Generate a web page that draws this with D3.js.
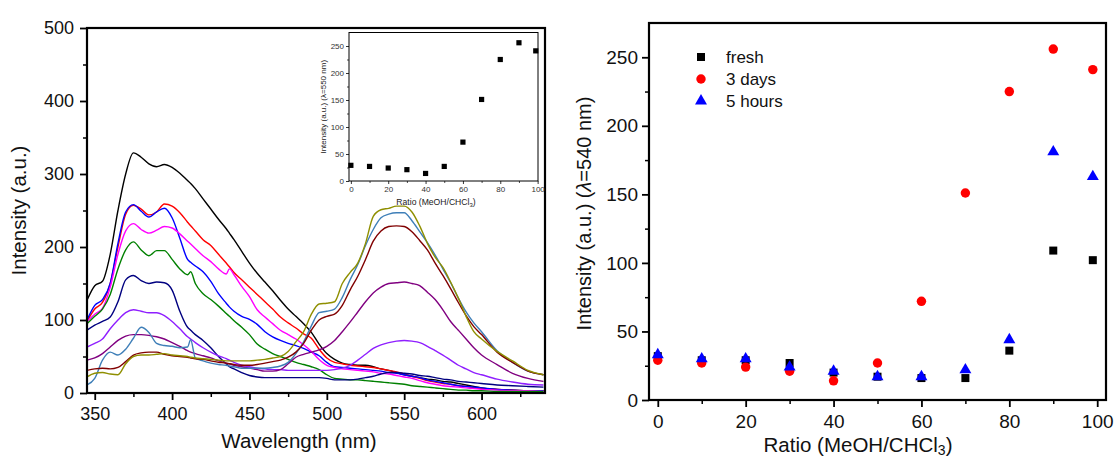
<!DOCTYPE html>
<html>
<head>
<meta charset="utf-8">
<script src="https://cdn.jsdelivr.net/npm/d3@7"></script>
<style>
  html, body { margin: 0; padding: 0; background: #fff; }
  svg { display: block; font-family: "Liberation Sans", Arial, sans-serif; }
</style>
</head>
<body>
<svg id="chart" width="1115" height="460"></svg>
<script>
// ---------------- DATA ----------------
const wavelengths = [345,350,355,360,365,370,375,380,385,390,
  395,400,405,410,412,415,420,425,430,435,
  437,440,445,450,455,460,465,470,475,480,
  485,490,495,500,505,510,515,520,525,530,
  535,540,545,550,555,560,565,570,575,580,
  585,590,595,600,610,620,630,640];

const specBlack = [127,147,153,190,250,300,329,323,314,310, 313,309,301,291,287,280,266,252,238,225, 219,210,194,178,164,152,140,127,115,105, 95,83,67,54,46,41,39,38,38,36, 33,31,28,25,23,21,19,18,16,15, 13,11,9,7,5,4,3,3];
const specRed = [98,115,124,150,200,245,257,252,244,248, 259,256,247,234,229,222,210,202,190,178, 173,165,155,145,135,125,115,104,96,89, 81,75,60,48,42,40,38,37,36,35, 33,31,29,26,23,20,17,15,13,12, 10,9,7,6,5,4,3,3];
const specBlue = [100,120,128,150,205,248,258,249,241,248, 253,240,212,183,179,174,166,153,136,123, 118,112,105,101,94,84,77,72,68,65, 61,56,51,42,36,35,34,33,32,31, 30,28,27,25,23,21,18,16,14,12, 10,9,8,7,5,4,3,3];
const specMagenta = [98,108,116,145,190,222,232,224,219,223, 228,226,218,208,204,198,188,180,170,163, 170,162,146,132,114,104,95,86,80,74, 66,57,46,38,35,33,32,31,30,29, 27,26,24,22,20,17,14,12,10,9, 8,7,6,5,4,3,3,2];
const specGreen = [95,105,115,135,170,196,207,196,188,195, 195,183,170,162,166,150,136,128,119,109, 105,99,90,80,67,60,54,50,46,42, 39,36,32,25,20,19,18,18,17,16, 15,14,13,12,10,9,8,7,6,5, 4,4,3,3,2,2,2,2];
const specNavy = [86,93,98,104,125,155,161,154,150,152, 151,141,112,90,86,80,72,62,50,40, 36,33,28,24,22,21,21,21,21,21, 21,21,21,20,18,18,18,19,21,23, 26,28,28,27,26,24,23,21,19,18, 16,15,14,13,11,10,9,8];
const specViolet = [63,68,74,88,100,110,114,112,110,110, 106,98,88,77,74,69,62,56,51,47, 45,42,38,36,34,33,32,32,31,31, 31,31,31,31,32,34,38,45,53,61, 66,69,71,72,71,69,64,58,52,45, 38,33,28,25,19,15,12,11];
const specPurple = [45,48,54,63,72,78,80,80,79,77, 74,69,64,58,56,54,51,48,44,41, 40,38,36,34,32,30,30,32,40,49, 53,56,59,64,72,84,97,111,125,137, 145,150,151,152,150,147,138,128,114,98, 86,74,62,52,39,27,20,16];
const specSteel = [11,20,45,56,52,60,75,90,83,68, 65,64,62,63,73,48,44,41,39,38, 37,36,34,34,34,34,35,37,42,54, 70,92,110,112,115,131,155,176,202,224, 240,245,247,247,236,221,206,189,170,151, 130,111,96,84,58,42,30,25];
const specWine = [31,33,34,33,35,43,52,55,56,56, 53,51,50,49,48,47,46,44,42,41, 40,39,38,38,39,41,43,45,49,56, 68,86,100,105,108,120,141,160,183,208, 222,228,229,228,221,209,196,178,161,143, 124,106,91,80,56,42,30,25];
const specOlive = [22,27,28,26,25,40,50,52,52,53, 54,52,51,50,49,48,47,46,45,44, 44,44,44,44,45,46,48,50,57,70, 84,108,122,123,125,150,165,178,205,242, 251,253,256,256,248,229,205,186,172,152, 130,105,84,74,57,44,31,25];

const leftXTicks = [350,400,450,500,550,600];
const leftYTicks = [0,100,200,300,400,500];

const ratios = [0,10,20,30,40,50,60,70,80,90,99];
const insetValues = [29,27,24,21,14,27,72,151,225,256,241];
const fresh = [32,29,29,27,20,17,16,16,36,109,102];
const threeDays = [29,27,24,21,14,27,72,151,225,256,241];
const fiveHours = [33,30,30,24,21,17,17,22,44,181,163];
const seriesNames = ["fresh","3 days","5 hours"];

const ratioTicks = [0,20,40,60,80,100];
const rightYTicks = [0,50,100,150,200,250];

// ---------------- STYLE ----------------
const specList = [specBlack, specRed, specBlue, specMagenta, specGreen, specNavy,
                  specViolet, specPurple, specSteel, specWine, specOlive];
const specColors = ["#000000","#ff0000","#0000ff","#ff00ff","#008000","#000080",
                    "#8f1fff","#800080","#3f7fb8","#800000","#8f8f00"];
const seriesColors = ["#000000","#ff0000","#0000ff"];

const svg = d3.select("#chart");
const FONT = "'Liberation Sans', Arial, sans-serif";

function styleAxis(g, fontSize, width, color) {
  g.select(".domain").remove();
  g.selectAll(".tick line").attr("stroke", "#000").attr("stroke-width", width);
  g.selectAll(".tick text").attr("font-size", fontSize).attr("font-family", FONT).attr("fill", color || "#111");
}

// ---------------- LEFT PANEL ----------------
const L = {x0: 87, x1: 545, y0: 28, y1: 393};
const xL = d3.scaleLinear().domain([345, 641]).range([L.x0, L.x1]);
const yL = d3.scaleLinear().domain([0, 500]).range([L.y1, L.y0]);

svg.append("defs").append("clipPath").attr("id", "clipL")
  .append("rect").attr("x", L.x0).attr("y", L.y0).attr("width", L.x1 - L.x0).attr("height", L.y1 - L.y0);

const line = d3.line().x((d, i) => xL(wavelengths[i])).y(d => yL(d)).curve(d3.curveMonotoneX);
const specG = svg.append("g").attr("clip-path", "url(#clipL)");
specList.forEach((s, k) => {
  specG.append("path").attr("d", line(s)).attr("fill", "none")
    .attr("stroke", specColors[k]).attr("stroke-width", 1.4).attr("stroke-linejoin", "round");
});

// axes
const lxMinor = d3.range(375, 640, 50);
const lyMinor = d3.range(50, 500, 100);
svg.append("g").attr("transform", `translate(0,${L.y1})`)
  .call(d3.axisBottom(xL).tickValues(leftXTicks).tickSize(7).tickSizeOuter(0).tickPadding(6))
  .call(g => styleAxis(g, 18, 1.8))
  .call(g => g.selectAll(".tick text").attr("y", 27).attr("dy", 0));
svg.append("g").attr("transform", `translate(0,${L.y1})`)
  .call(d3.axisBottom(xL).tickValues(lxMinor).tickSize(4).tickFormat(""))
  .call(g => styleAxis(g, 18, 1.5));
svg.append("g").attr("transform", `translate(${L.x0},0)`)
  .call(d3.axisLeft(yL).tickValues(leftYTicks).tickSize(7).tickSizeOuter(0).tickPadding(6))
  .call(g => styleAxis(g, 18, 1.8));
svg.append("g").attr("transform", `translate(${L.x0},0)`)
  .call(d3.axisLeft(yL).tickValues(lyMinor).tickSize(4).tickFormat(""))
  .call(g => styleAxis(g, 18, 1.5));
svg.append("rect").attr("x", L.x0).attr("y", L.y0).attr("width", L.x1 - L.x0).attr("height", L.y1 - L.y0)
  .attr("fill", "none").attr("stroke", "#000").attr("stroke-width", 2.2);

svg.append("text").attr("transform", `translate(26,${(L.y0 + L.y1) / 2}) rotate(-90)`)
  .attr("text-anchor", "middle").attr("font-size", 20.5).attr("fill", "#111").text("Intensity (a.u.)");
svg.append("text").attr("x", 299).attr("y", 448).attr("text-anchor", "middle")
  .attr("font-size", 20.5).attr("fill", "#111").text("Wavelength (nm)");

// ---------------- INSET ----------------
const I = {x0: 349, x1: 538, y0: 32.5, y1: 181};
const xI = d3.scaleLinear().domain([-1, 100.2]).range([I.x0, I.x1]);
const yI = d3.scaleLinear().domain([0, 275]).range([I.y1, I.y0]);
svg.append("rect").attr("x", I.x0).attr("y", I.y0).attr("width", I.x1 - I.x0).attr("height", I.y1 - I.y0)
  .attr("fill", "#fff").attr("stroke", "none");
svg.append("g").attr("transform", `translate(0,${I.y1})`)
  .call(d3.axisBottom(xI).tickValues(ratioTicks).tickSize(3).tickSizeOuter(0).tickPadding(2))
  .call(g => styleAxis(g, 8, 0.8, "#333"));
svg.append("g").attr("transform", `translate(0,${I.y1})`)
  .call(d3.axisBottom(xI).tickValues(d3.range(10, 100, 20)).tickSize(2).tickFormat(""))
  .call(g => styleAxis(g, 8, 0.7));
svg.append("g").attr("transform", `translate(${I.x0},0)`)
  .call(d3.axisLeft(yI).tickValues(rightYTicks).tickSize(3).tickSizeOuter(0).tickPadding(2))
  .call(g => styleAxis(g, 8, 0.8, "#333"));
svg.append("g").attr("transform", `translate(${I.x0},0)`)
  .call(d3.axisLeft(yI).tickValues(d3.range(25, 275, 50)).tickSize(2).tickFormat(""))
  .call(g => styleAxis(g, 8, 0.7));
svg.append("rect").attr("x", I.x0).attr("y", I.y0).attr("width", I.x1 - I.x0).attr("height", I.y1 - I.y0)
  .attr("fill", "none").attr("stroke", "#000").attr("stroke-width", 1);
svg.append("g").selectAll("rect").data(ratios).join("rect")
  .attr("x", (d, i) => xI(d) - 2.6).attr("y", (d, i) => yI(insetValues[i]) - 2.6)
  .attr("width", 5.2).attr("height", 5.2).attr("fill", "#000");
svg.append("text").attr("transform", `translate(326,${(I.y0 + I.y1) / 2}) rotate(-90)`)
  .attr("text-anchor", "middle").attr("font-size", 8).attr("fill", "#222").text("Intensity (a.u.) (λ=550 nm)");
const it = svg.append("text").attr("x", 436).attr("y", 205).attr("text-anchor", "middle")
  .attr("font-size", 8.6).attr("fill", "#222");
it.append("tspan").text("Ratio (MeOH/CHCl");
it.append("tspan").attr("font-size", 6).attr("dy", 2).text("3");
it.append("tspan").attr("dy", -2).text(")");

// ---------------- RIGHT PANEL ----------------
const R = {x0: 649, x1: 1106, y0: 23, y1: 400};
const xR = d3.scaleLinear().domain([-2, 102]).range([R.x0, R.x1]);
const yR = d3.scaleLinear().domain([0, 275]).range([R.y1, R.y0]);

svg.append("g").attr("transform", `translate(0,${R.y1})`)
  .call(d3.axisBottom(xR).tickValues(ratioTicks).tickSize(7).tickSizeOuter(0).tickPadding(6))
  .call(g => styleAxis(g, 19, 1.8))
  .call(g => g.selectAll(".tick text").attr("y", 28).attr("dy", 0));
svg.append("g").attr("transform", `translate(0,${R.y1})`)
  .call(d3.axisBottom(xR).tickValues(d3.range(10, 100, 20)).tickSize(4).tickFormat(""))
  .call(g => styleAxis(g, 19, 1.5));
svg.append("g").attr("transform", `translate(${R.x0},0)`)
  .call(d3.axisLeft(yR).tickValues(rightYTicks).tickSize(7).tickSizeOuter(0).tickPadding(4))
  .call(g => styleAxis(g, 19, 1.8));
svg.append("g").attr("transform", `translate(${R.x0},0)`)
  .call(d3.axisLeft(yR).tickValues(d3.range(25, 275, 50)).tickSize(4).tickFormat(""))
  .call(g => styleAxis(g, 19, 1.5));
svg.append("rect").attr("x", R.x0).attr("y", R.y0).attr("width", R.x1 - R.x0).attr("height", R.y1 - R.y0)
  .attr("fill", "none").attr("stroke", "#000").attr("stroke-width", 2.2);

const symSquare = d3.symbol().type(d3.symbolSquare).size(64);
const symCircle = d3.symbol().type(d3.symbolCircle).size(70);
const symTri = d3.symbol().type(d3.symbolTriangle).size(62);
const seriesData = [fresh, threeDays, fiveHours];
const seriesSyms = [symSquare, symCircle, symTri];
seriesData.forEach((vals, k) => {
  svg.append("g").selectAll("path").data(ratios).join("path")
    .attr("transform", (d, i) => `translate(${xR(d)},${yR(vals[i])})`)
    .attr("d", seriesSyms[k]()).attr("fill", seriesColors[k]);
});

// legend
const legY = [57, 79, 101];
seriesNames.forEach((name, k) => {
  svg.append("path").attr("transform", `translate(701,${legY[k]})`)
    .attr("d", seriesSyms[k]()).attr("fill", seriesColors[k]);
  svg.append("text").attr("x", 726).attr("y", legY[k] + 6).attr("font-size", 17)
    .attr("fill", "#111").text(name);
});

const ry = svg.append("text").attr("transform", `translate(591,${(R.y0 + R.y1) / 2 + 2}) rotate(-90)`)
  .attr("text-anchor", "middle").attr("font-size", 20).attr("fill", "#111");
ry.append("tspan").text("Intensity (a.u.) (");
ry.append("tspan").attr("font-style", "italic").text("λ");
ry.append("tspan").text("=540 nm)");

const rx = svg.append("text").attr("x", 858).attr("y", 452).attr("text-anchor", "middle")
  .attr("font-size", 20.5).attr("fill", "#111");
rx.append("tspan").text("Ratio (MeOH/CHCl");
rx.append("tspan").attr("font-size", 14).attr("dy", 3).text("3");
rx.append("tspan").attr("dy", -3).text(")");
</script>
</body>
</html>
